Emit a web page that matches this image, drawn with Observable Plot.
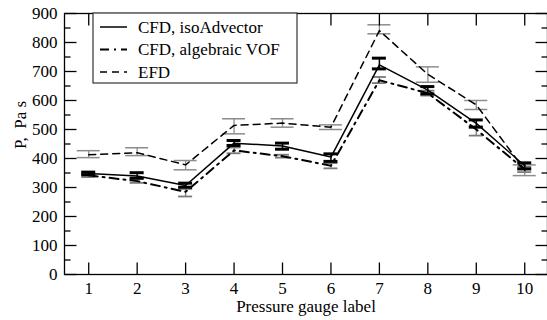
<!DOCTYPE html>
<html>
<head>
<meta charset="utf-8">
<script src="https://cdn.jsdelivr.net/npm/d3@7"></script>
<script src="https://cdn.jsdelivr.net/npm/@observablehq/plot@0.6"></script>
<style>
  html, body { margin: 0; padding: 0; background: white; }
  #chart { position: relative; width: 547px; height: 320px; overflow: hidden; }
  #chart svg, #chart svg text { font-family: "Liberation Serif", "Times New Roman", "DejaVu Serif", serif !important; }
</style>
</head>
<body>
<div id="chart"></div>
<script>
// ---- data ----
const gauges = [1, 2, 3, 4, 5, 6, 7, 8, 9, 10];

const isoAdvector   = [348, 340, 307, 453, 443, 405, 723, 636, 521, 375];
const isoAdvectorLo = [344, 332, 301, 445, 432, 390, 709, 623, 508, 364];
const isoAdvectorHi = [353, 351, 315, 462, 453, 416, 746, 648, 533, 385];

const algebraicVOF   = [342, 322, 285, 428, 408, 375, 670, 625, 500, 362];
const algebraicVOFLo = [336, 316, 269, 418, 403, 366, 660, 617, 479, 353];
const algebraicVOFHi = [348, 330, 295, 438, 413, 384, 681, 634, 510, 371];

const efd   = [413, 420, 378, 514, 522, 508, 841, 690, 585, 360];
const efdLo = [403, 410, 361, 485, 508, 500, 830, 663, 569, 341];
const efdHi = [427, 437, 393, 537, 537, 516, 861, 716, 600, 378];

const yMajorTicks = [0, 100, 200, 300, 400, 500, 600, 700, 800, 900];
const yMinorTicks = [50, 150, 250, 350, 450, 550, 650, 750, 850];

const seriesNames = ["CFD, isoAdvector", "CFD, algebraic VOF", "EFD"];
const xLabel = "Pressure gauge label";
const yLabel = "P,  Pa s";

(function () {
// ---- tables ----
const mk = (v, lo, hi) => gauges.map((g, i) => ({g, v: v[i], lo: lo[i], hi: hi[i]}));
const isoData = mk(isoAdvector, isoAdvectorLo, isoAdvectorHi);
const vofData = mk(algebraicVOF, algebraicVOFLo, algebraicVOFHi);
const efdData = mk(efd, efdLo, efdHi);

const styles = {
  iso: {stroke: "black", strokeWidth: 1.5},
  vof: {stroke: "black", strokeWidth: 2, strokeDasharray: "9,5,2,5"},
  efd: {stroke: "black", strokeWidth: 1.5, strokeDasharray: "7,5"}
};

function errorBars(data, color, stemW, capW, halfCap) {
  return [
    Plot.ruleX(data, {x: "g", y1: "lo", y2: "hi", stroke: color, strokeWidth: stemW}),
    Plot.ruleY(data, {x1: "g", x2: "g", y: "lo", stroke: color, strokeWidth: capW, insetLeft: -halfCap, insetRight: -halfCap}),
    Plot.ruleY(data, {x1: "g", x2: "g", y: "hi", stroke: color, strokeWidth: capW, insetLeft: -halfCap, insetRight: -halfCap})
  ];
}

// pixel-length helpers converted to data units via the domain/frame size
const xDomain = [0.5, 10.47], yDomain = [0, 900];
const frameW = 547 - 64 - 0, frameH = 320 - 13 - 46;
const pxX = p => p * (xDomain[1] - xDomain[0]) / frameW;
const pxY = p => p * (yDomain[1] - yDomain[0]) / frameH;
const tickStyle = {stroke: "black", strokeWidth: 1.3};
const hTick = (vals, from, len) => Plot.link(vals, {x1: from, x2: from + len, y1: d => d, y2: d => d, ...tickStyle});
const vTick = (vals, from, len) => Plot.link(vals, {x1: d => d, x2: d => d, y1: from, y2: from + len, ...tickStyle});

const chart = Plot.plot({
  width: 547,
  height: 320,
  marginLeft: 64,
  marginRight: 0,
  marginTop: 13,
  marginBottom: 46,
  x: {domain: xDomain},
  y: {domain: yDomain},
  style: {fontFamily: "Liberation Serif, Times New Roman, serif", fontSize: "17px", color: "black", background: "white"},
  marks: [
    // error bars
    ...errorBars(efdData, "#8c8c8c", 1.3, 1.5, 11.5),
    ...errorBars(vofData, "#7a7a7a", 1.3, 1.8, 7),
    ...errorBars(isoData, "black", 1.5, 3, 7),
    // lines
    Plot.line(efdData, {x: "g", y: "v", ...styles.efd}),
    Plot.line(vofData, {x: "g", y: "v", ...styles.vof}),
    Plot.line(isoData, {x: "g", y: "v", ...styles.iso}),
    // tick labels
    Plot.axisY(yMajorTicks, {anchor: "left", tickSize: 0, tickPadding: 7, label: null}),
    Plot.axisX(gauges, {anchor: "bottom", tickSize: 0, tickPadding: 7, label: null}),
    // inward ticks on all four sides
    hTick(yMajorTicks, xDomain[0], pxX(12)),
    hTick(yMinorTicks, xDomain[0], pxX(6)),
    hTick(yMajorTicks, xDomain[1], -pxX(12)),
    hTick(yMinorTicks, xDomain[1], -pxX(6)),
    vTick(gauges, yDomain[0], pxY(12)),
    vTick(gauges, yDomain[1], -pxY(12)),
    Plot.frame({stroke: "black", strokeWidth: 1.3}),
    // axis titles
    Plot.text([xLabel], {text: d => d, frameAnchor: "bottom", dy: 37, fontSize: 17}),
    Plot.text([yLabel], {text: d => d, frameAnchor: "left", rotate: -90, dx: -44, dy: 5, fontSize: 17})
  ]
});

document.getElementById("chart").appendChild(chart);

// ---- legend inside the plot (top-left) ----
const svg = d3.select(chart);
const lg = svg.append("g").attr("transform", "translate(93,13)");
lg.append("rect").attr("x", 0).attr("y", 0).attr("width", 204).attr("height", 70)
  .attr("fill", "white").attr("stroke", "#333").attr("stroke-width", 1.2);
["iso", "vof", "efd"].forEach((k, i) => {
  const y = 14 + i * 22.5;
  const s = styles[k];
  lg.append("line").attr("x1", 7).attr("x2", 34).attr("y1", y).attr("y2", y)
    .attr("stroke", s.stroke).attr("stroke-width", s.strokeWidth)
    .attr("stroke-dasharray", s.strokeDasharray || null);
  lg.append("text").attr("x", 45).attr("y", y).attr("dy", "0.35em")
    .attr("text-anchor", "start")
    .attr("font-size", 17)
    .attr("fill", "black").text(seriesNames[i]);
});
})();
</script>
</body>
</html>
